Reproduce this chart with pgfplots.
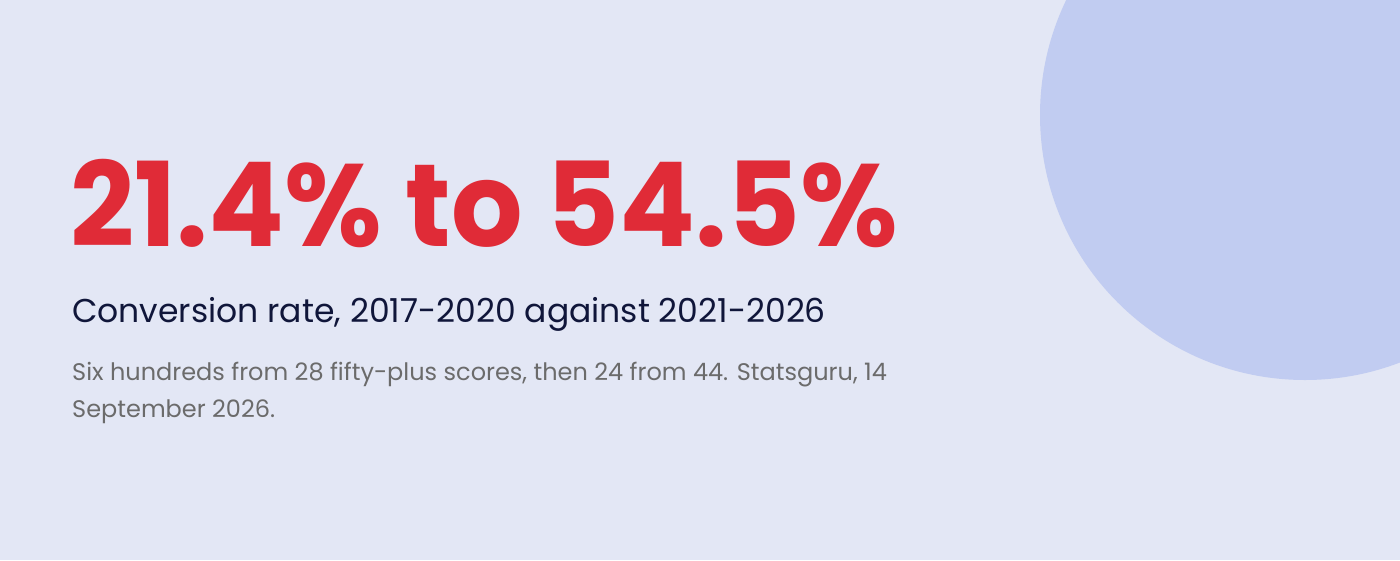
\documentclass[border=0pt]{standalone}
\usepackage{pgfplots}
\pgfplotsset{compat=1.18}
\usepackage{fontspec}
\setmainfont{Poppins}
\definecolor{bg}{HTML}{E3E7F5}
\definecolor{blob}{HTML}{C1CCF1}
\definecolor{headred}{HTML}{E02B37}
\definecolor{navy}{HTML}{10163A}
\definecolor{note}{HTML}{6B6B6B}
\begin{document}
\begin{tikzpicture}
\begin{axis}[
    width=1400pt, height=560pt, scale only axis,
    xmin=0, xmax=1400, ymin=0, ymax=560, y dir=reverse,
    hide axis, clip=true,
]
% card background and decorative circle
\fill[bg] (axis cs:0,0) rectangle (axis cs:1400,560);
\fill[blob] (axis cs:1305,115) circle[radius=265];

% headline figure
\node[anchor=base west, inner sep=0, text=headred, xscale=0.96,
      font=\fontsize{117}{117}\selectfont\bfseries]
  at (axis cs:70,246) {21.4\% to 54.5\%};

% subtitle
\node[anchor=base west, inner sep=0, text=navy,
      font=\fontsize{33}{33}\selectfont]
  at (axis cs:72,322) {Conversion rate, 2017-2020 against 2021-2026};

% source note, two lines
\node[anchor=base west, inner sep=0, text=note,
      font=\fontsize{24}{24}\selectfont]
  at (axis cs:72,380) {Six hundreds from 28 fifty-plus scores, then 24 from 44. Statsguru, 14};
\node[anchor=base west, inner sep=0, text=note,
      font=\fontsize{24}{24}\selectfont]
  at (axis cs:72,417) {September 2026.};

\coordinate (sw) at (axis cs:0,560);
\coordinate (ne) at (axis cs:1400,0);
\end{axis}
\pgfresetboundingbox
\path[use as bounding box] (sw) rectangle (ne);
\end{tikzpicture}
\end{document}
